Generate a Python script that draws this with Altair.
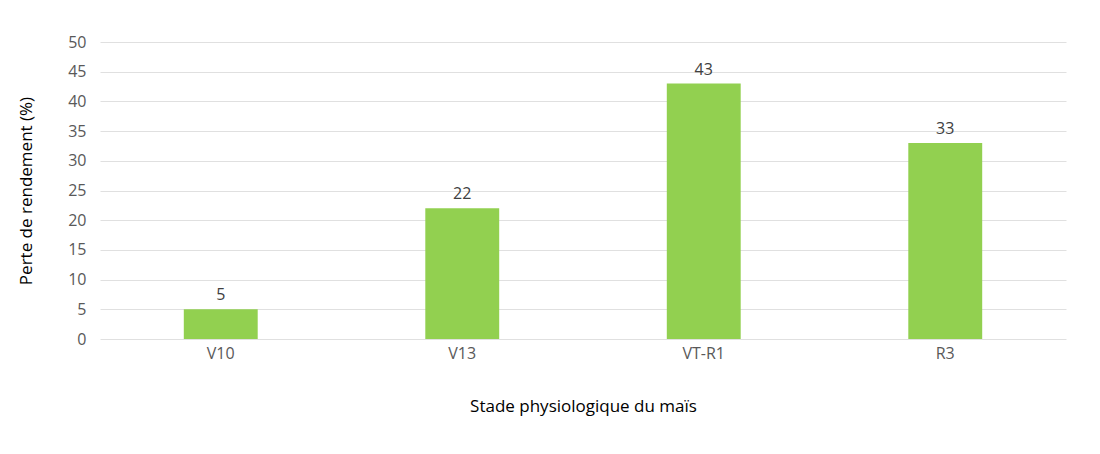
import altair as alt
import pandas as pd

stades = ["V10", "V13", "VT-R1", "R3"]
pertes = [5, 22, 43, 33]

df = pd.DataFrame({"stade": stades, "perte": pertes})

FONT = "Open Sans"
x = alt.X("stade:N", sort=stades,
          scale=alt.Scale(paddingInner=0.694, paddingOuter=0.347),
          axis=alt.Axis(title="Stade physiologique du maïs", labelAngle=0,
                        labelFontSize=16, labelColor="#595959", labelFont=FONT,
                        labelPadding=6, domain=False, ticks=False,
                        titleFontSize=17, titleFont=FONT, titleFontWeight="normal",
                        titleColor="#000000", titlePadding=37))
y = alt.Y("perte:Q", scale=alt.Scale(domain=[0, 50]),
          axis=alt.Axis(title="Perte de rendement (%)", values=list(range(0, 51, 5)),
                        labelOverlap=False,
                        labelFontSize=16, labelColor="#595959", labelFont=FONT,
                        labelPadding=14, domain=False, ticks=False,
                        gridColor="#e0e0e0", gridWidth=1,
                        titleFontSize=17, titleFont=FONT, titleFontWeight="normal",
                        titleColor="#000000", titlePadding=32))

bars = alt.Chart(df).mark_bar(color="#92D050").encode(x=x, y=y)
labels = bars.mark_text(dy=-14, fontSize=16, font=FONT, color="#404040").encode(
    text="perte:Q")

chart = (bars + labels).properties(
    width=966, height=297,
    autosize=alt.AutoSizeParams(type="none"),
    padding={"left": 92, "top": 34, "right": 26, "bottom": 107},
).configure(background="white").configure_view(stroke=None)

chart.save("out.html", embed_options={"renderer": "svg", "actions": False})
